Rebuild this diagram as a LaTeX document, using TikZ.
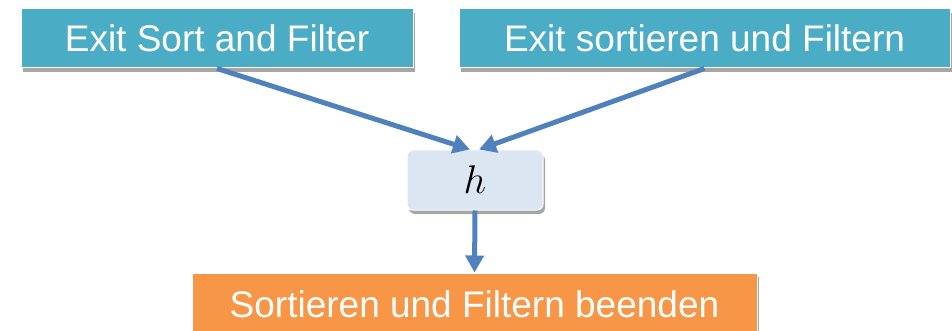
\documentclass[tikz,border=0pt]{standalone}
\usepackage{fix-cm}
\usepackage{fontspec}
\setmainfont{Liberation Sans}
\usetikzlibrary{arrows.meta,shadows,calc}
\definecolor{tealfill}{HTML}{4BACC6}
\definecolor{orangefill}{HTML}{F79646}
\definecolor{hfill}{HTML}{DCE6F2}
\definecolor{arrowblue}{HTML}{4F81BD}
\tikzset{
  softshadow/.style={drop shadow={shadow xshift=2pt,shadow yshift=-4pt,fill=black,opacity=0.35}},
  labelbox/.style={draw=white,line width=1pt,text=white,inner sep=0pt,
    font=\fontsize{37}{42}\selectfont,softshadow},
  tealbox/.style={labelbox,fill=tealfill},
  orangebox/.style={labelbox,fill=orangefill},
  hbox/.style={draw=white,line width=1pt,fill=hfill,rounded corners=6pt,
    minimum width=136pt,minimum height=60pt,inner sep=0pt,softshadow,
    font=\fontsize{40}{44}\selectfont},
  flow/.style={draw=arrowblue,line width=5pt,
    -{Triangle[length=17pt,width=18pt]}},
}
\begin{document}
\begin{tikzpicture}[x=1pt,y=-1pt]
  \useasboundingbox (0,0) rectangle (952,331);
  \node[tealbox,minimum width=392pt,minimum height=59pt] (exiten) at (217,38.5)
    {Exit Sort and Filter};
  \node[tealbox,minimum width=491pt,minimum height=59pt] (exitde) at (704.5,38.5)
    {Exit sortieren und Filtern};
  \node[hbox] (h) at (475,180) {$h$};
  \node[orangebox,minimum width=565pt,minimum height=62pt] (end) at (474.5,304)
    {Sortieren und Filtern beenden};
  \coordinate (hinl) at ($(h.north)+(-5,0)$);
  \coordinate (hinr) at ($(h.north)+(4,0)$);
  \draw[flow] (exiten.south) -- (hinl);
  \draw[flow] (exitde.south) -- (hinr);
  \draw[flow] (h.south) -- (end.north);
\end{tikzpicture}
\end{document}
